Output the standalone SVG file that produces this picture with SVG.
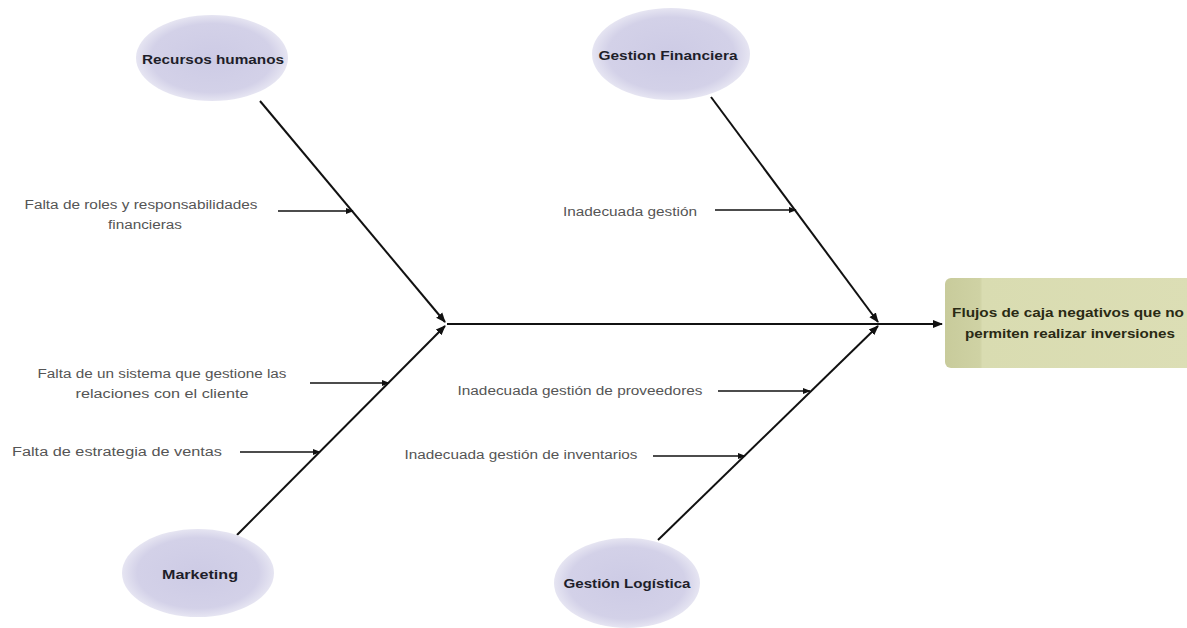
<svg xmlns="http://www.w3.org/2000/svg" width="1187" height="628" viewBox="0 0 1187 628">
<style>
.cat{fill:url(#ell);stroke:none}
.catt{font-family:"Liberation Sans",Arial,sans-serif;font-size:13px;font-weight:bold;fill:#1e1e2a;text-anchor:middle}
.lbl{font-family:"Liberation Sans",Arial,sans-serif;font-size:12.5px;fill:#555;text-anchor:middle}
.bone{stroke:#111;stroke-width:2;fill:none;marker-end:url(#ah)}
.sub{stroke:#111;stroke-width:1.6;fill:none;marker-end:url(#ah)}
.eff{font-family:"Liberation Sans",Arial,sans-serif;font-size:12.5px;font-weight:bold;fill:#2a2a14;text-anchor:middle}
</style>
<defs>
<radialGradient id="ell" cx="0.5" cy="0.5" r="0.5">
<stop offset="0" stop-color="#cdcbe5"/>
<stop offset="0.8" stop-color="#d3d1e8"/>
<stop offset="1" stop-color="#e6e5f2"/>
</radialGradient>
<linearGradient id="box" x1="0" y1="0" x2="1" y2="0">
<stop offset="0" stop-color="#c8cb9b"/>
<stop offset="0.14" stop-color="#cfd2a4"/>
<stop offset="0.15" stop-color="#d9dcb1"/>
<stop offset="1" stop-color="#dcdeb5"/>
</linearGradient>
<marker id="ah" viewBox="0 0 10 10" refX="9" refY="5" markerWidth="5" markerHeight="5" orient="auto" markerUnits="strokeWidth">
<path d="M0,1 L10,5 L0,9 z" fill="#111"/>
</marker>
</defs>
<rect width="1187" height="628" fill="#ffffff"/>

<g id="connectors">
<line class="bone" x1="447" y1="324" x2="942" y2="324"/>
<line class="bone" x1="260" y1="101" x2="445" y2="322"/>
<line class="bone" x1="711" y1="97" x2="878" y2="322"/>
<line class="bone" x1="237" y1="535" x2="445" y2="326"/>
<line class="bone" x1="658" y1="540" x2="878" y2="326"/>
<line class="sub" x1="278" y1="211" x2="353" y2="211"/>
<line class="sub" x1="715" y1="210" x2="796" y2="210"/>
<line class="sub" x1="310" y1="383" x2="389" y2="383"/>
<line class="sub" x1="240" y1="452" x2="320" y2="452"/>
<line class="sub" x1="718" y1="391" x2="810" y2="391"/>
<line class="sub" x1="653" y1="456" x2="745" y2="456"/>
</g>

<g id="recursos">
<ellipse class="cat" cx="212" cy="58" rx="76" ry="43"/>
<text class="catt" x="213" y="64" textLength="142" lengthAdjust="spacingAndGlyphs">Recursos humanos</text>
</g>
<g id="financiera">
<ellipse class="cat" cx="671" cy="54" rx="79" ry="46"/>
<text class="catt" x="668" y="60" textLength="139" lengthAdjust="spacingAndGlyphs">Gestion Financiera</text>
</g>
<g id="marketing">
<ellipse class="cat" cx="198" cy="573" rx="76" ry="44"/>
<text class="catt" x="200" y="579" textLength="76" lengthAdjust="spacingAndGlyphs">Marketing</text>
</g>
<g id="logistica">
<ellipse class="cat" cx="627" cy="583" rx="73" ry="45"/>
<text class="catt" x="627" y="588" textLength="127" lengthAdjust="spacingAndGlyphs">Gestión Logística</text>
</g>
<g id="efecto">
<rect x="945" y="278" width="250" height="90" rx="6" fill="url(#box)"/>
<text class="eff" x="1068" y="317" textLength="232" lengthAdjust="spacingAndGlyphs">Flujos de caja negativos que no</text>
<text class="eff" x="1070" y="338" textLength="210" lengthAdjust="spacingAndGlyphs">permiten realizar inversiones</text>
</g>

<g id="causa-roles">
<text class="lbl" x="141" y="209" textLength="233" lengthAdjust="spacingAndGlyphs">Falta de roles y responsabilidades</text>
<text class="lbl" x="145" y="229" textLength="74" lengthAdjust="spacingAndGlyphs">financieras</text>
</g>
<g id="causa-gestion">
<text class="lbl" x="630" y="216" textLength="134" lengthAdjust="spacingAndGlyphs">Inadecuada gestión</text>
</g>
<g id="causa-sistema">
<text class="lbl" x="162" y="378" textLength="249" lengthAdjust="spacingAndGlyphs">Falta de un sistema que gestione las</text>
<text class="lbl" x="162" y="398" textLength="173" lengthAdjust="spacingAndGlyphs">relaciones con el cliente</text>
</g>
<g id="causa-ventas">
<text class="lbl" x="117" y="456" textLength="210" lengthAdjust="spacingAndGlyphs">Falta de estrategia de ventas</text>
</g>
<g id="causa-proveedores">
<text class="lbl" x="580" y="395" textLength="245" lengthAdjust="spacingAndGlyphs">Inadecuada gestión de proveedores</text>
</g>
<g id="causa-inventarios">
<text class="lbl" x="521" y="459" textLength="233" lengthAdjust="spacingAndGlyphs">Inadecuada gestión de inventarios</text>
</g>
</svg>
